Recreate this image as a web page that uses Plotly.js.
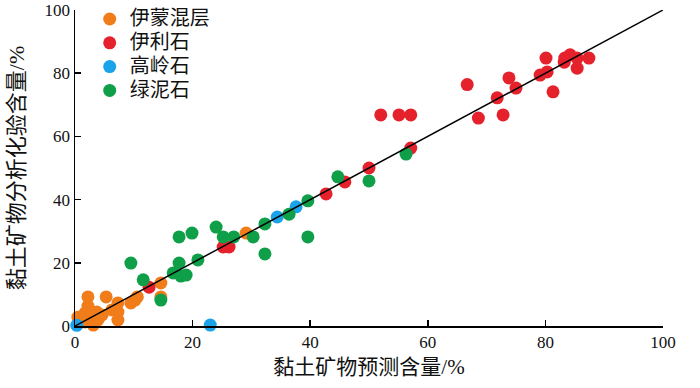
<!DOCTYPE html>
<html>
<head>
<meta charset="utf-8">
<script src="https://cdn.plot.ly/plotly-3.0.1.min.js"></script>
<style>html,body{margin:0;padding:0;background:#fff;}#chart{width:700px;height:388px;}</style>
</head>
<body>
<div id="chart"></div>
<script>
var seriesNames = ["伊蒙混层", "伊利石", "高岭石", "绿泥石"];
var seriesColors = ["#F07D1A", "#E5222B", "#1AA3E8", "#0E9F48"];

var imsX = [0.5, 0.5, 1.7, 1.7, 2.2, 2.2, 3.1, 3.1, 3.9, 4.6, 3.7, 5.3, 6.3, 7.3, 7.3, 7.3, 9.5, 10.2, 10.6, 14.6, 14.6, 29.1];
var imsY = [0.8, 2.8, 4.1, 1.3, 9.2, 6.3, 1.9, 0.3, 1.9, 3.5, 4.4, 9.2, 5.1, 7.3, 4.4, 1.9, 7.3, 8.2, 9.2, 13.6, 9.2, 29.4];

var illX = [12.6, 25.2, 26.2, 42.7, 45.9, 50.0, 52.0, 55.1, 57.1, 57.1, 66.7, 68.6, 72.8, 71.8, 73.8, 75.0, 79.1, 80.3, 80.1, 81.3, 83.2, 83.3, 84.2, 85.4, 85.4, 87.4];
var illY = [12.3, 25.0, 25.0, 41.8, 45.6, 50.0, 66.8, 66.8, 66.8, 56.3, 76.4, 65.8, 66.8, 72.2, 78.5, 75.3, 79.4, 80.4, 84.8, 74.1, 83.5, 84.8, 85.8, 84.8, 81.6, 84.8];

var kaoX = [0.3, 23.0, 34.4, 37.6];
var kaoY = [0.2, 0.3, 34.5, 37.7];

var chlX = [9.5, 11.6, 14.6, 16.7, 18.0, 18.9, 17.7, 20.9, 17.7, 19.9, 24.0, 25.2, 27.0, 30.3, 32.3, 32.3, 36.4, 39.6, 39.6, 44.7, 50.0, 56.3];
var chlY = [19.9, 14.6, 8.2, 16.8, 15.8, 16.1, 19.9, 20.9, 28.2, 29.4, 31.3, 28.2, 28.2, 28.2, 22.8, 32.3, 35.4, 39.6, 28.2, 47.2, 45.9, 54.4];

var lineX = [0, 100];
var lineY = [0, 100];

var xTickVals = [0, 20, 40, 60, 80, 100];
var yTickVals = [0, 20, 40, 60, 80, 100];

var xs = [imsX, illX, kaoX, chlX];
var ys = [imsY, illY, kaoY, chlY];

var traces = [];
for (var i = 0; i < 4; i++) {
  traces.push({
    x: xs[i], y: ys[i], type: 'scatter', mode: 'markers',
    name: '<span style="font-size:20px">' + seriesNames[i] + '</span>',
    cliponaxis: false,
    marker: {color: seriesColors[i], size: 13, line: {width: 0}}
  });
}
traces.push({x: lineX, y: lineY, type: 'scatter', mode: 'lines', showlegend: false, hoverinfo: 'skip',
  line: {color: '#000', width: 1.5}, cliponaxis: false});

var fontFam = '"Liberation Serif", "Times New Roman", "Noto Sans CJK SC", serif';

var layout = {
  width: 700, height: 388,
  margin: {l: 75, r: 37, t: 10, b: 62, autoexpand: false},
  paper_bgcolor: '#fff', plot_bgcolor: '#fff',
  font: {family: fontFam, color: '#111', size: 17},
  showlegend: true,
  legend: {x: 0.025, y: 1.025, xanchor: 'left', yanchor: 'top', bgcolor: 'rgba(0,0,0,0)',
    font: {family: fontFam, size: 16, color: '#111'}, tracegroupgap: 0, itemwidth: 30},
  xaxis: {range: [0, 100], tickvals: xTickVals, ticks: 'inside', ticklen: 6, tickwidth: 1.5, tickcolor: '#000',
    showline: true, linecolor: '#000', linewidth: 1.5, showgrid: false, zeroline: false, mirror: false,
    tickfont: {family: fontFam, size: 17, color: '#111'},
    title: {text: '黏土矿物预测含量/%', font: {family: fontFam, size: 21, color: '#111'}, standoff: 8}},
  yaxis: {range: [0, 100], tickvals: yTickVals, ticks: 'inside', ticklen: 6, tickwidth: 1.5, tickcolor: '#000',
    showline: true, linecolor: '#000', linewidth: 1.5, showgrid: false, zeroline: false, mirror: false,
    tickfont: {family: fontFam, size: 17, color: '#111'},
    title: {text: '黏土矿物分析化验含量/%', font: {family: fontFam, size: 22, color: '#111'}, standoff: 14}}
};

Plotly.newPlot('chart', traces, layout, {staticPlot: true, displayModeBar: false});
</script>
</body>
</html>
